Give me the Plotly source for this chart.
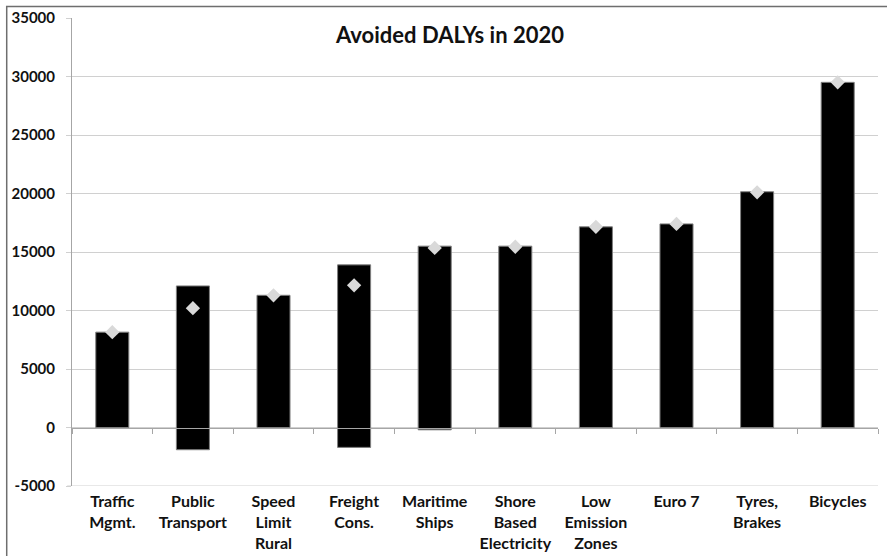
import plotly.graph_objects as go

# Measures and their ranges of avoided DALYs (low / high) plus central estimate
categories = [
    "Traffic<br>Mgmt.", "Public<br>Transport", "Speed<br>Limit<br>Rural",
    "Freight<br>Cons.", "Maritime<br>Ships", "Shore<br>Based<br>Electricity",
    "Low<br>Emission<br>Zones", "Euro 7", "Tyres,<br>Brakes", "Bicycles",
]
range_low = [0, -1900, 0, -1700, -200, 0, 0, 0, 0, 0]
range_high = [8150, 12100, 11300, 13900, 15500, 15500, 17150, 17400, 20150, 29500]
central = [8150, 10200, 11300, 12150, 15350, 15450, 17150, 17400, 20100, 29500]

y_ticks = [-5000, 0, 5000, 10000, 15000, 20000, 25000, 30000, 35000]

FONT = "Lato"
GRID = "#d0d0d0"
AXIS = "#a6a6a6"
TEXT = "#111111"

fig = go.Figure()

# Floating bars: start at the low value, extend to the high value
fig.add_trace(go.Bar(
    x=categories,
    y=[h - l for h, l in zip(range_high, range_low)],
    base=range_low,
    marker=dict(color="black", line=dict(color="#7f7f7f", width=1)),
    showlegend=False,
    hoverinfo="skip",
))

# Central estimates as diamonds, on the overlaying axis drawn at y = 0
fig.add_trace(go.Scatter(
    x=categories,
    y=central,
    xaxis="x2",
    mode="markers",
    marker=dict(symbol="diamond", size=11, color="#d9d9d9"),
    showlegend=False,
))

fig.update_layout(
    width=887, height=556,
    margin=dict(l=72, r=9, t=18, b=70, autoexpand=False),
    paper_bgcolor="white", plot_bgcolor="white",
    bargap=0.59,
    font=dict(family=FONT, color=TEXT),
    xaxis=dict(
        type="category",
        categoryorder="array", categoryarray=categories,
        showgrid=False, showline=False, zeroline=False, ticks="",
        automargin=False,
        ticklabelstandoff=4,
        tickfont=dict(family=FONT, size=16, color=TEXT, weight="bold"),
        range=[-0.5, len(categories) - 0.5],
    ),
    xaxis2=dict(
        type="category",
        categoryorder="array", categoryarray=categories,
        overlaying="x", anchor="free", position=0.125,
        range=[-0.5, len(categories) - 0.5],
        automargin=False,
        showgrid=False, zeroline=False,
        showline=True, linecolor=AXIS, linewidth=1,
        ticks="outside", tickson="boundaries", ticklen=5, tickcolor=AXIS,
        showticklabels=False,
    ),
    yaxis=dict(
        range=[-5000, 35000],
        tickvals=y_ticks,
        ticktext=[str(v) for v in y_ticks],
        automargin=False,
        showgrid=True, gridcolor=GRID, gridwidth=1,
        zeroline=False,
        showline=True, linecolor=AXIS, linewidth=1,
        ticks="outside", ticklen=5, tickcolor=GRID,
        ticklabelstandoff=8,
        tickfont=dict(family=FONT, size=15, color=TEXT, weight="bold"),
    ),
    annotations=[dict(
        text="Avoided DALYs in 2020",
        xref="paper", yref="paper", x=0.468, y=0.964,
        xanchor="center", yanchor="middle", showarrow=False,
        font=dict(family=FONT, size=22, color=TEXT, weight="bold"),
    )],
    shapes=[
        # chart frame (left and top edges)
        dict(
            type="path", xref="paper", yref="paper",
            path="M -0.081,-0.3 L -0.081,1.0248 L 1.02,1.0248",
            line=dict(color="#6e6e6e", width=1.5),
        ),
        # gridline along the lower edge of the value axis
        dict(
            type="line", xref="paper", yref="y",
            x0=-0.006, x1=1, y0=y_ticks[0], y1=y_ticks[0],
            line=dict(color=GRID, width=1), layer="below",
        ),
    ],
)

fig.write_html("out.html")
